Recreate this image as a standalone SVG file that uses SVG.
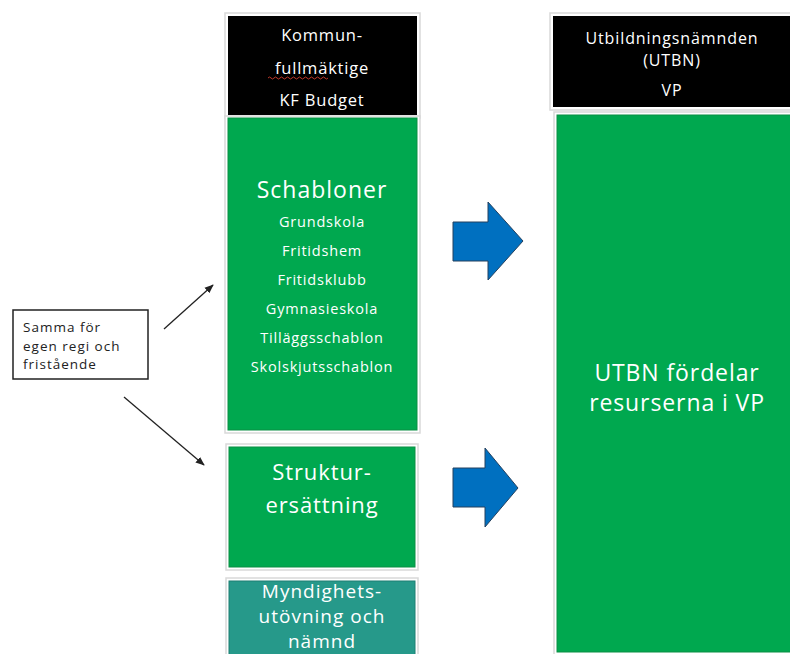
<svg xmlns="http://www.w3.org/2000/svg" width="790" height="654" viewBox="0 0 790 654">
  <defs>
    <style>
      .frame { fill: #ffffff; stroke: #d9d9d9; stroke-width: 1.5; }
      .black { fill: #000000; }
      .green { fill: #00a84f; stroke: #0b8f45; stroke-width: 1; }
      .teal { fill: #26998a; stroke: #1d7f72; stroke-width: 1; }
      .t { font-family: "Open Sans", Lato, "Liberation Sans", sans-serif; fill: #ffffff; text-anchor: middle; font-weight: 500; }
      .note { font-family: "Open Sans", Lato, "Liberation Sans", sans-serif; fill: #222222; font-size: 13.5px; letter-spacing: 1px; }
      .blue { fill: #0070c0; stroke: #24415f; stroke-width: 1; }
      .conn { stroke: #222222; stroke-width: 1.3; fill: none; marker-end: url(#ah); }
    </style>
    <marker id="ah" viewBox="0 0 10 10" refX="9" refY="5" markerWidth="7" markerHeight="7" orient="auto">
      <path d="M0,1 L10,5 L0,9 Z" fill="#222222"/>
    </marker>
  </defs>
  <rect width="790" height="654" fill="#ffffff"/>

  <g id="kf">
    <rect class="frame" x="225" y="13" width="195" height="105"/>
    <rect class="black" x="228" y="16" width="189" height="99"/>
    <text class="t" x="322" y="41" font-size="16.5" letter-spacing="0.8">Kommun-</text>
    <text class="t" x="322" y="74" font-size="16.5" letter-spacing="0.8">fullmäktige</text>
    <path d="M268,78 q1.5,-2 3,0 t3,0 t3,0 t3,0 t3,0 t3,0 t3,0 t3,0 t3,0 t3,0 t3,0 t3,0 t3,0 t3,0 t3,0 t3,0 t3,0 t3,0 t3,0 t3,0" stroke="#c0392b" stroke-width="1" fill="none"/>
    <text class="t" x="322" y="106" font-size="16.5" letter-spacing="0.8">KF Budget</text>
  </g>

  <g id="schabloner">
    <rect class="frame" x="225" y="116" width="195" height="317"/>
    <rect class="green" x="228" y="118" width="189" height="312"/>
    <text class="t" x="322" y="198" font-size="23" letter-spacing="1">Schabloner</text>
    <text class="t" x="322" y="227" font-size="14.5" letter-spacing="0.8">Grundskola</text>
    <text class="t" x="322" y="256" font-size="14.5" letter-spacing="0.8">Fritidshem</text>
    <text class="t" x="322" y="285" font-size="14.5" letter-spacing="0.8">Fritidsklubb</text>
    <text class="t" x="322" y="314" font-size="14.5" letter-spacing="0.8">Gymnasieskola</text>
    <text class="t" x="322" y="343" font-size="14.5" letter-spacing="0.8">Tilläggsschablon</text>
    <text class="t" x="322" y="372" font-size="14.5" letter-spacing="0.8">Skolskjutsschablon</text>
  </g>

  <g id="struktur">
    <rect class="frame" x="226" y="444" width="192" height="126"/>
    <rect class="green" x="229" y="447" width="186" height="120"/>
    <text class="t" x="322" y="480" font-size="22" letter-spacing="0.9">Struktur-</text>
    <text class="t" x="322" y="513" font-size="22" letter-spacing="0.9">ersättning</text>
  </g>

  <g id="myndighet">
    <rect class="frame" x="226" y="578" width="192" height="80"/>
    <rect class="teal" x="229" y="581" width="186" height="76"/>
    <text class="t" x="322" y="598" font-size="19" letter-spacing="1">Myndighets-</text>
    <text class="t" x="322" y="623" font-size="19" letter-spacing="1">utövning och</text>
    <text class="t" x="322" y="648" font-size="19" letter-spacing="1">nämnd</text>
  </g>

  <g id="utbn">
    <rect class="frame" x="550" y="13" width="245" height="97"/>
    <rect class="black" x="553" y="16" width="240" height="91"/>
    <text class="t" x="672" y="44" font-size="16" letter-spacing="0.9">Utbildningsnämnden</text>
    <text class="t" x="672" y="66" font-size="16" letter-spacing="0.9">(UTBN)</text>
    <text class="t" x="672" y="96" font-size="16" letter-spacing="0.9">VP</text>
  </g>

  <g id="utbn-vp">
    <rect class="frame" x="554" y="112" width="240" height="543"/>
    <rect class="green" x="557" y="115" width="236" height="537"/>
    <text class="t" x="677" y="381" font-size="23" letter-spacing="0.9">UTBN fördelar</text>
    <text class="t" x="677" y="411" font-size="23" letter-spacing="0.9">resurserna i VP</text>
  </g>

  <g id="samma">
    <rect x="13" y="310" width="135" height="69" fill="#ffffff" stroke="#222222" stroke-width="1.5"/>
    <text class="note" x="23" y="332">Samma för</text>
    <text class="note" x="23" y="350.5">egen regi och</text>
    <text class="note" x="23" y="369">fristående</text>
  </g>

  <g id="blue-arrows">
    <path class="blue" d="M453,222 L488,222 L488,202 L523,241 L488,280 L488,261 L453,261 Z"/>
    <path class="blue" d="M453,468 L485,468 L485,448 L518,488 L485,527 L485,507 L453,507 Z"/>
  </g>

  <g id="connectors">
    <line class="conn" x1="164" y1="329" x2="213" y2="285"/>
    <line class="conn" x1="124" y1="397" x2="204" y2="465"/>
  </g>
</svg>
